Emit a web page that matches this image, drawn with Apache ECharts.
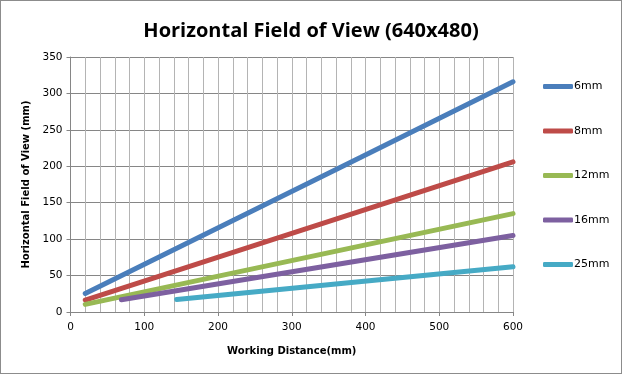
<!DOCTYPE html>
<html><head><meta charset="utf-8">
<script src="https://cdn.jsdelivr.net/npm/echarts@6/dist/echarts.min.js"></script>
<style>html,body{margin:0;padding:0;background:#fff}#c{width:622px;height:374px;box-sizing:border-box;border:1px solid #8c8c8c}</style>
</head><body><div id="c"></div>
<script>
const seriesNames = ['6mm','8mm','12mm','16mm','25mm'];
const colors = ['#4a7ebb','#be4b48','#98b954','#7d60a0','#46aac5'];
const wd6 = [20, 393, 600];  const fov6 = [25.5, 212, 316];
const wd8 = [20, 600];       const fov8 = [16.4, 206];
const wd12 = [20, 600];      const fov12 = [10.5, 135];
const wd16 = [69, 600];      const fov16 = [16.8, 105];
const wd25 = [144, 600];     const fov25 = [17.3, 62];
const xs = [wd6, wd8, wd12, wd16, wd25];
const ys = [fov6, fov8, fov12, fov16, fov25];

const chart = echarts.init(document.getElementById('c'));
const font = 'DejaVu Sans';
chart.setOption({
  animation: false,
  title: {text: 'Horizontal Field of View (640x480)', left: 'center', top: 15,
    textStyle: {fontFamily: 'Open Sans', fontWeight: 'bold', fontSize: 20, color: '#000'}},
  grid: {left: 69.5, right: 108, top: 56, bottom: 61},
  legend: {orient: 'vertical', left: 537, top: 75, itemGap: 33.5, itemWidth: 30, itemHeight: 5,
    icon: 'roundRect', textStyle: {fontFamily: font, fontSize: 11, color: '#000', padding: [0,0,0,-4]},
    data: seriesNames},
  xAxis: {type: 'value', min: 0, max: 600, interval: 100,
    name: 'Working Distance(mm)', nameLocation: 'middle', nameGap: 34,
    nameTextStyle: {fontFamily: font, fontWeight: 'bold', fontSize: 10, color: '#000'},
    axisLine: {lineStyle: {color: '#868686'}},
    axisTick: {show: true, length: 4, lineStyle: {color: '#868686'}},
    axisLabel: {fontFamily: font, fontSize: 10.5, color: '#000', margin: 10},
    splitLine: {show: true, lineStyle: {color: '#b4b4b4'}},
    minorTick: {show: false, splitNumber: 5},
    minorSplitLine: {show: true, lineStyle: {color: '#b4b4b4'}}},
  yAxis: {type: 'value', min: 0, max: 350, interval: 50,
    name: 'Horizontal Field of View (mm)', nameLocation: 'middle', nameGap: 36,
    nameTextStyle: {fontFamily: font, fontWeight: 'bold', fontSize: 10, color: '#000'},
    axisLine: {show: true, lineStyle: {color: '#868686'}},
    axisTick: {show: true, length: 4, lineStyle: {color: '#868686'}},
    axisLabel: {fontFamily: font, fontSize: 10.5, color: '#000', margin: 8},
    splitLine: {show: true, lineStyle: {color: '#868686'}}},
  series: seriesNames.map((n, i) => ({
    name: n, type: 'line', showSymbol: false, symbol: 'none',
    lineStyle: {width: 5, color: colors[i], cap: 'round'},
    itemStyle: {color: colors[i]},
    data: xs[i].map((x, j) => [x, ys[i][j]])
  }))
});
</script></body></html>
